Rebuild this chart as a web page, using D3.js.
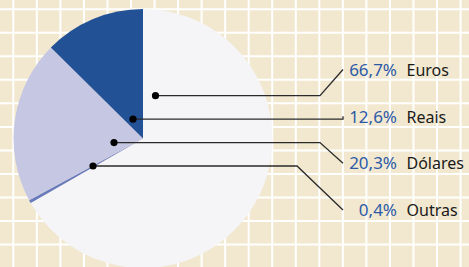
<!DOCTYPE html>
<html>
<head>
<meta charset="utf-8">
<script src="https://cdn.jsdelivr.net/npm/d3@7"></script>
<style>
  html, body { margin: 0; padding: 0; background: #f2e8d0; }
  svg { display: block; }
</style>
</head>
<body>
<svg id="chart" width="469" height="267"></svg>
<script>
// data, in label order (top to bottom)
var categories = ["Euros", "Reais", "Dólares", "Outras"];
var shares     = [66.7, 12.6, 20.3, 0.4];
var labels     = ["66,7%", "12,6%", "20,3%", "0,4%"];
// order of slices clockwise from 12 o'clock
var sliceOrder = ["Euros", "Outras", "Dólares", "Reais"];
var colours    = { "Euros": "#f5f5f8", "Reais": "#235196", "Dólares": "#c6c8e3", "Outras": "#6a7bbd" };

// callout anchors inside the pie (x of dot) and the elbow x of each leader
var dotX   = [155.5, 133, 114, 93];
var elbowX = [320, 343, 320, 297];

var W = 469, H = 267;
var cx = 143, cy = 138.5, R = 129.5;

var svg = d3.select("#chart");

// background grid
var grid = svg.append("g").attr("class", "grid");
grid.append("rect").attr("width", W).attr("height", H).attr("fill", "#f2e8d0");
var step = 23.54;
grid.selectAll(".vx")
  .data(d3.range(13.3, W, step))
  .enter().append("line")
  .attr("x1", function(d) { return d; }).attr("x2", function(d) { return d; })
  .attr("y1", 0).attr("y2", H)
  .attr("stroke", "#fff").attr("stroke-width", 2);
grid.selectAll(".hz")
  .data(d3.range(9.2, H, step))
  .enter().append("line")
  .attr("y1", function(d) { return d; }).attr("y2", function(d) { return d; })
  .attr("x1", 0).attr("x2", W)
  .attr("stroke", "#fff").attr("stroke-width", 2);

// pie
var pieData = sliceOrder.map(function(c) { return { name: c, value: shares[categories.indexOf(c)] }; });
var pie = d3.pie().sort(null).value(function(d) { return d.value; });
var arc = d3.arc().innerRadius(0).outerRadius(R);

svg.append("g")
  .attr("transform", "translate(" + cx + "," + cy + ")")
  .selectAll("path")
  .data(pie(pieData))
  .enter().append("path")
  .attr("d", arc)
  .attr("fill", function(d) { return colours[d.data.name]; });

// callouts
var rowY  = d3.scalePoint().domain(categories).range([69.5, 210]);
var lineY = d3.scalePoint().domain(categories).range([95.7, 166]);
var endX = 343;

var co = svg.append("g").attr("class", "callouts");
categories.forEach(function(c, i) {
  var y0 = lineY(c), y1 = rowY(c);
  co.append("polyline")
    .attr("points", [[dotX[i], y0], [elbowX[i], y0], [endX, y1]].map(function(p) { return p.join(","); }).join(" "))
    .attr("fill", "none")
    .attr("stroke", "#2a2a2a")
    .attr("stroke-width", 1.3);
  co.append("circle")
    .attr("cx", dotX[i]).attr("cy", y0).attr("r", 3.6)
    .attr("fill", "#000");
  co.append("text")
    .attr("x", 397).attr("y", y1 + 6.2)
    .attr("text-anchor", "end")
    .attr("fill", "#2c5aa6")
    .style("font", "17px 'Noto Sans', sans-serif")
    .text(labels[i]);
  co.append("text")
    .attr("x", 406.5).attr("y", y1 + 6.2)
    .attr("fill", "#1a1a1a")
    .style("font", "16px 'Noto Sans', sans-serif")
    .text(c);
});
</script>
</body>
</html>
